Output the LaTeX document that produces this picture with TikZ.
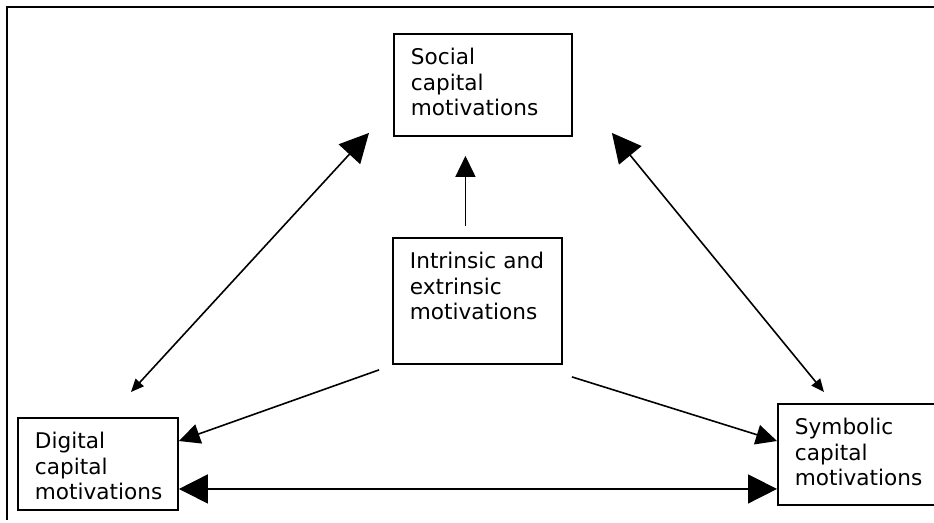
\documentclass[tikz,border=0pt]{standalone}
\usepackage{fontspec}
\setmainfont{DejaVu Sans}
\usetikzlibrary{arrows.meta,calc}

\tikzset{
	box/.style={draw, line width=1.9pt, anchor=north west, align=left,
		font=\fontsize{21.6}{25.5}\selectfont, inner xsep=17pt, inner ysep=0pt,
		text height=31pt, text depth=#1},
	link/.style={line width=1.6pt},
	bighead/.tip={Triangle[length=29pt,width=29pt]},
	midhead/.tip={Triangle[length=21pt,width=20pt]},
	smallhead/.tip={Triangle[length=13pt,width=11pt]}
}

\begin{document}
\begin{tikzpicture}[x=1pt, y=-1pt]
		%%%%% START %%%%%
		\useasboundingbox (0, 0) rectangle (934, 522);
		\clip (0, 0) rectangle (934, 522);
		
		% open frame, top and left side only
		\draw[line width=2.5pt] (7, 520) -- (7, 7) -- (940, 7);
		
		\node[box=71pt, text width=144pt] (social) at (393, 33) {Social\\capital\\motivations};
		\node[box=95pt, text width=135pt] (intrinsic) at (392, 237) {Intrinsic and\\extrinsic\\motivations};
		\node[box=61pt, text width=126pt] (digital) at (17, 417) {Digital\\capital\\motivations};
		\node[box=70pt, text width=126pt] (symbolic) at (777, 403) {Symbolic\\capital\\motivations};
		
		% intrinsic pushes up to social
		\coordinate (up) at ([xshift=-12pt, yshift=11pt]intrinsic.north);
		\draw[link, -{midhead}] (up) -- ([yshift=-19pt]social.south -| up);
		
		% intrinsic out to the two lower boxes
		\draw[link, -{midhead}] ([xshift=-13pt, yshift=-5pt]intrinsic.south west) -- ([yshift=-24pt]digital.north east);
		\draw[link, -{midhead}] ([xshift=9pt, yshift=-12pt]intrinsic.south east) -- ([yshift=-38pt]symbolic.north west);
		
		% the three sides of the triangle
		\draw[link, {smallhead}-{bighead}] ([xshift=33pt, yshift=25pt]digital.north) -- ([xshift=-24pt, yshift=4pt]social.south west);
		\draw[link, {bighead}-{smallhead}] ([xshift=39pt, yshift=4pt]social.south east) -- ([xshift=47pt, yshift=11pt]symbolic.north west);
		\coordinate (base) at ([yshift=-25pt]digital.east);
		\draw[link, {bighead}-{bighead}] (base) -- (base -| symbolic.west);
		
		%%%%% END %%%%%
	\end{tikzpicture}
\end{document}
